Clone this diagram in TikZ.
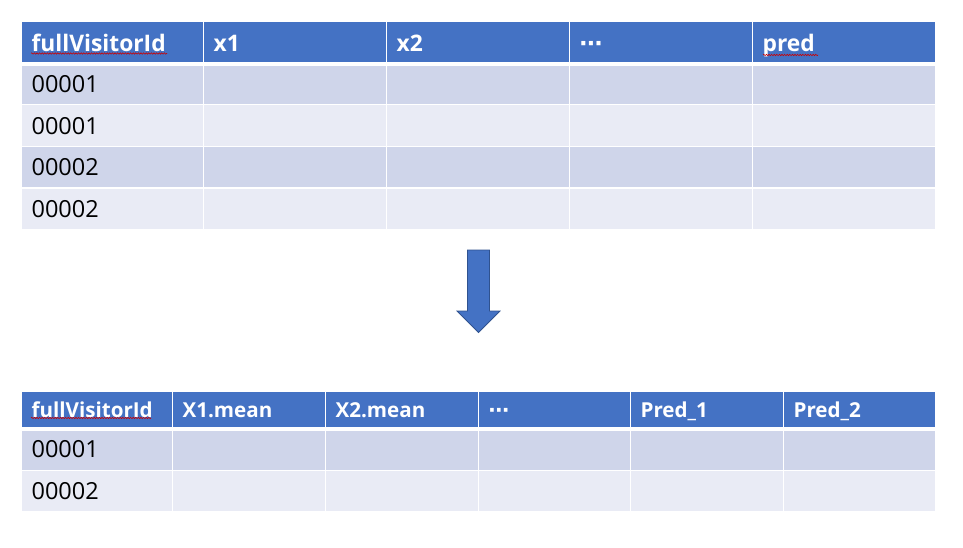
\documentclass[tikz,border=0pt]{standalone}
\usepackage{fontspec}
\setmainfont{Open Sans}
\newfontfamily\dotsfont{DejaVu Sans}
\usetikzlibrary{positioning, decorations.pathmorphing}
\definecolor{hdr}{HTML}{4472C4}
\definecolor{rowA}{HTML}{CFD5EA}
\definecolor{rowB}{HTML}{E9EBF5}
\definecolor{arrowline}{HTML}{2F528F}
\newcommand\middots{{\dotsfont\bfseries ⋯}}

\begin{document}
\begin{tikzpicture}[x=1pt, y=-1pt,
  cell/.style={draw=white, line width=1.2pt, anchor=north west, inner xsep=10pt, inner ysep=0pt, align=left,
    text height=20pt, text depth=3pt, font=\fontsize{23.5}{28}\selectfont},
  tophead/.style={cell, fill=hdr, text=white, font=\fontsize{22.8}{26}\selectfont\bfseries, text height=19pt, text depth=1pt},
  bothead/.style={cell, fill=hdr, text=white, font=\fontsize{20.6}{24}\selectfont\bfseries, text height=17pt, text depth=2pt},
  spell/.style={draw=red!80!black, line width=0.6pt, decorate, decoration={snake, amplitude=0.7pt, segment length=2.6pt}}]

\useasboundingbox (0,0) rectangle (963,548);

% upper table
\foreach \x/\w/\t [count=\i] in {21/182/fullVisitorId, 203/183/x1, 386/183/x2, 569/183/\middots, 752/183/pred}{
  \pgfmathsetmacro\tw{\w-20}
  \node[tophead, minimum width=\w pt, minimum height=41.6pt, text width=\tw pt] (top-h\i) at (\x,21) {\t};
}
\foreach \r/\y/\id/\col in {1/62.6/00001/rowA, 2/104.2/00001/rowB, 3/145.8/00002/rowA, 4/187.4/00002/rowB}{
  \foreach \x/\w [count=\c] in {21/182, 203/183, 386/183, 569/183, 752/183}{
    \pgfmathsetmacro\tw{\w-20}
    \node[cell, fill=\col, minimum width=\w pt, minimum height=41.6pt, text width=\tw pt] (top-\r-\c) at (\x,\y) {\ifnum\c=1 \id\fi};
  }
}
\draw[white, line width=4pt] (top-h1.south west) -- (top-h5.south east);

% arrow
\coordinate (arr) at (478.5,250);
\filldraw[fill=hdr, draw=arrowline, line width=0.8pt] (arr) ++(-11,0) -- ++(22,0) -- ++(0,61) -- ++(10.5,0)
  -- ++(-21.5,21.5) -- ++(-21.5,-21.5) -- ++(10.5,0) -- cycle;

% lower table
\foreach \x/\w/\t [count=\i] in {21/151/fullVisitorId, 172/153/X1.mean, 325/153/X2.mean, 478/152/\middots, 630/153/Pred\_1, 783/152/Pred\_2}{
  \pgfmathsetmacro\tw{\w-20}
  \node[bothead, minimum width=\w pt, minimum height=37pt, text width=\tw pt] (bot-h\i) at (\x,391) {\t};
}
\foreach \r/\y/\h/\id/\col in {1/428/41.5/00001/rowA, 2/469.5/41.5/00002/rowB}{
  \foreach \x/\w [count=\c] in {21/151, 172/153, 325/153, 478/152, 630/153, 783/152}{
    \pgfmathsetmacro\tw{\w-20}
    \node[cell, fill=\col, minimum width=\w pt, minimum height=\h pt, text width=\tw pt] (bot-\r-\c) at (\x,\y) {\ifnum\c=1 \id\fi};
  }
}
\draw[white, line width=4pt] (bot-h1.south west) -- (bot-h6.south east);

% spell marks
\draw[spell] (31,53.5) -- (167,53.5);
\draw[spell] (763,55) -- (818,55);
\draw[spell] (31,418) -- (151,418);

\end{tikzpicture}
\end{document}
